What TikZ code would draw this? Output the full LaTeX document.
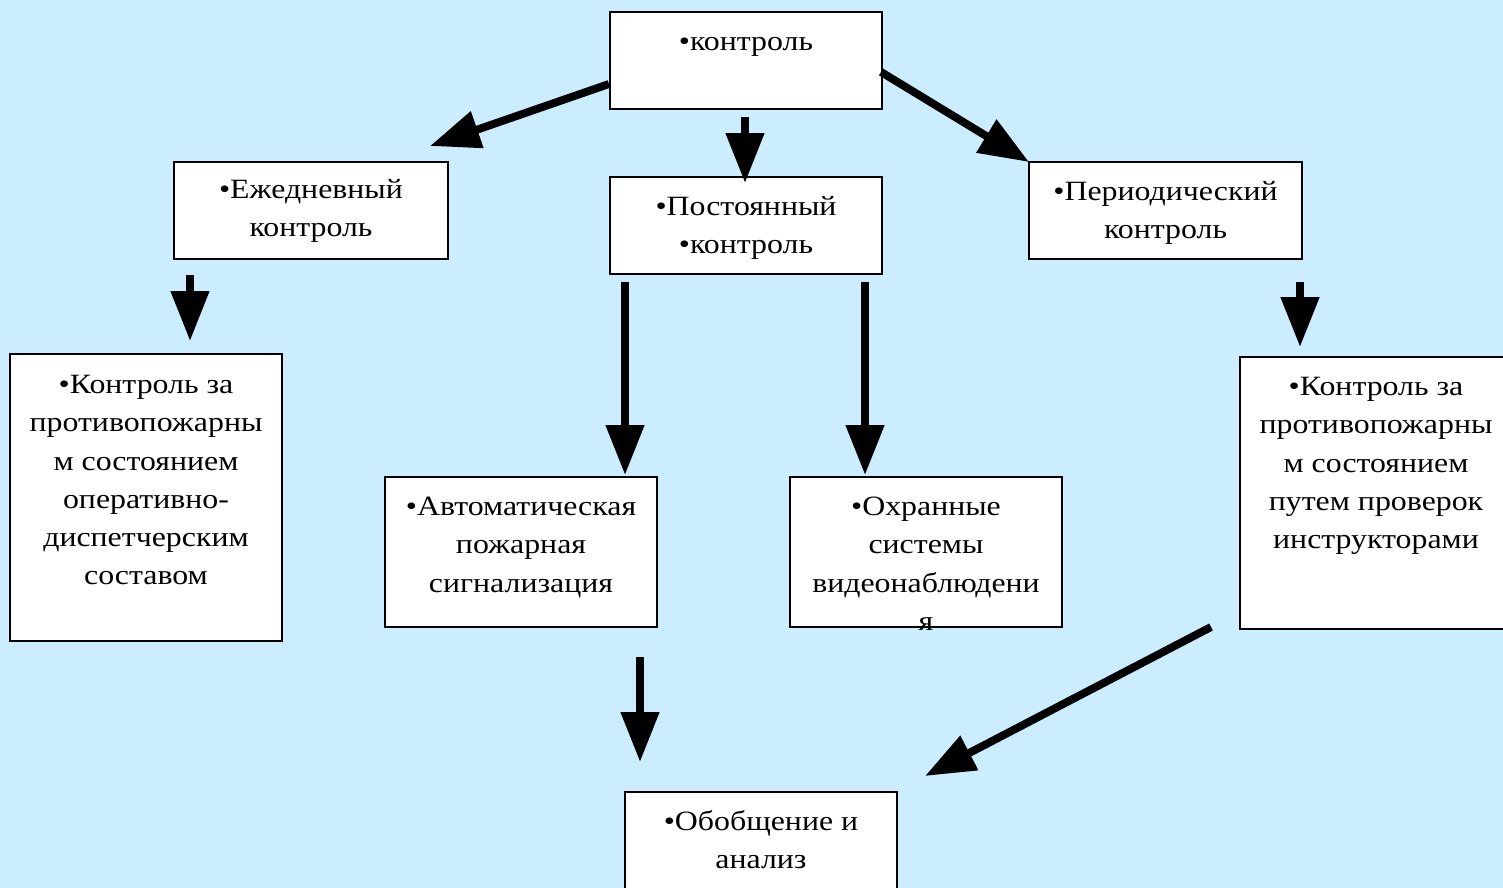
\documentclass[tikz,border=0pt]{standalone}
\usepackage{fontspec}
\setmainfont[FakeStretch=1.14]{Liberation Serif}
\usetikzlibrary{arrows.meta}
\definecolor{bgblue}{RGB}{204,236,255}
\newcommand{\fl}{\rule{0pt}{12pt}}
\begin{document}
\begin{tikzpicture}[x=0.02cm,y=-0.02cm,
  box/.style={draw=black, line width=1.15pt, fill=white, inner sep=0pt, minimum width=5.44cm},
  txt/.style={font=\fontsize{15.9}{21.8}\selectfont, align=center, inner sep=0pt, anchor=north},
  arr/.style={line width=4.5pt, -{Triangle[width=0.74cm,length=1cm]}}]
\fill[bgblue] (0,0) rectangle (1503,888);
\useasboundingbox (0,0) rectangle (1503,888);
% boxes
\node[box, minimum height=1.94cm] (top) at (746,60.5) {};
\node[box, minimum height=1.94cm, minimum width=5.48cm] (ezh) at (311,210.5) {};
\node[box, minimum height=1.94cm] (post) at (746,225.5) {};
\node[box, minimum height=1.94cm, minimum width=5.46cm] (per) at (1165.5,210.5) {};
\node[box, minimum height=5.74cm] (lft) at (146,497.5) {};
\node[box, minimum height=3cm] (auto) at (521,552) {};
\node[box, minimum height=3cm] (ohr) at (926,552) {};
\node[box, minimum height=5.44cm] (rgt) at (1376,493) {};
\node[box, minimum height=1.94cm] (obob) at (761,840.5) {};
% texts (first baseline about 38px below the box top)
\node[txt] (ttop) at ([yshift=-0.36cm]top.north) {\fl•контроль};
\node[txt] (tezh) at ([yshift=-0.32cm]ezh.north) {\fl•Ежедневный\\контроль};
\node[txt] (tpost) at ([yshift=-0.36cm]post.north) {\fl•Постоянный\\•контроль};
\node[txt] (tper) at ([yshift=-0.36cm]per.north) {\fl•Периодический\\контроль};
\node[txt] (tlft) at ([yshift=-0.38cm]lft.north) {\fl•Контроль за\\противопожарны\\м состоянием\\оперативно-\\диспетчерским\\составом};
\node[txt] (tauto) at ([yshift=-0.36cm]auto.north) {\fl•Автоматическая\\пожарная\\сигнализация};
\node[txt] (tohr) at ([yshift=-0.36cm]ohr.north) {\fl•Охранные\\системы\\видеонаблюдени\\я};
\node[txt] (trgt) at ([yshift=-0.36cm]rgt.north) {\fl•Контроль за\\противопожарны\\м состоянием\\путем проверок\\инструкторами};
\node[txt] (tobob) at ([yshift=-0.36cm]obob.north) {\fl•Обобщение и\\анализ};
% arrow end points
\coordinate (a1s) at (609,84);   \coordinate (a1e) at (430,146);
\coordinate (a2s) at (745,117);  \coordinate (a2e) at (745,183);
\coordinate (a3s) at (881,72);   \coordinate (a3e) at (1029,162);
\coordinate (a4s) at (190,275);  \coordinate (a4e) at (190,341);
\coordinate (a5s) at (625,282);  \coordinate (a5e) at (625,475);
\coordinate (a6s) at (865,282);  \coordinate (a6e) at (865,475);
\coordinate (a7s) at (1300,282); \coordinate (a7e) at (1300,347);
\coordinate (a8s) at (640,657);  \coordinate (a8e) at (640,762);
\coordinate (a9s) at (1211,627); \coordinate (a9e) at (925,776);
\foreach \i in {1,...,9} \draw[arr] (a\i s) -- (a\i e);
\end{tikzpicture}
\end{document}
